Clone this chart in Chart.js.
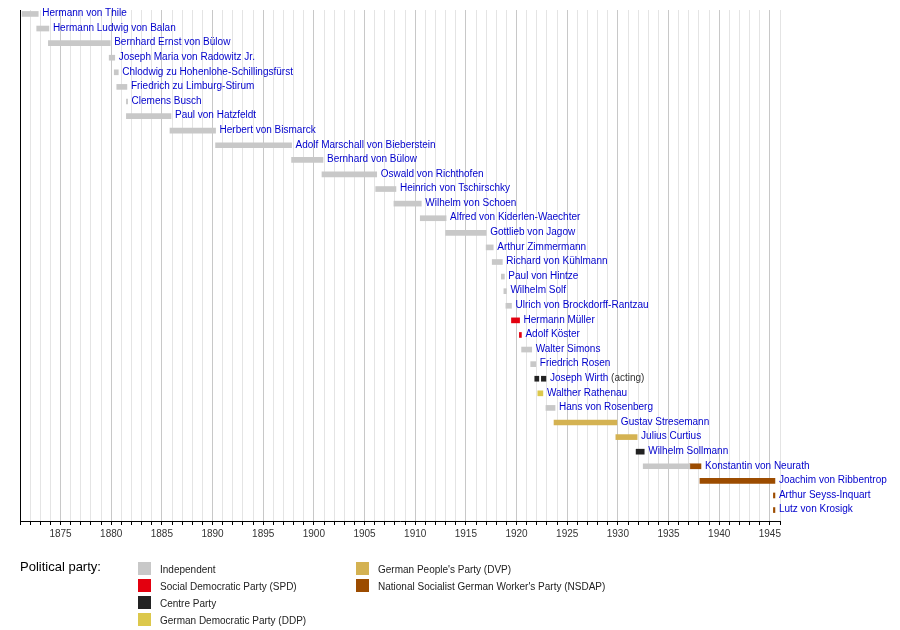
<!DOCTYPE html>
<html>
<head>
<meta charset="utf-8">
<script src="https://cdn.jsdelivr.net/npm/chart.js@4"></script>
<style>
  html, body { margin: 0; padding: 0; background: #fff; }
  #wrap { width: 900px; height: 630px; position: relative; }
</style>
</head>
<body>
<div id="wrap"><canvas id="chart"></canvas></div>
<script>
// office holders, top to bottom
const names = [
  "Hermann von Thile", "Hermann Ludwig von Balan", "Bernhard Ernst von Bülow",
  "Joseph Maria von Radowitz Jr.", "Chlodwig zu Hohenlohe-Schillingsfürst",
  "Friedrich zu Limburg-Stirum", "Clemens Busch", "Paul von Hatzfeldt",
  "Herbert von Bismarck", "Adolf Marschall von Bieberstein", "Bernhard von Bülow",
  "Oswald von Richthofen", "Heinrich von Tschirschky", "Wilhelm von Schoen",
  "Alfred von Kiderlen-Waechter", "Gottlieb von Jagow", "Arthur Zimmermann",
  "Richard von Kühlmann", "Paul von Hintze", "Wilhelm Solf",
  "Ulrich von Brockdorff-Rantzau", "Hermann Müller", "Adolf Köster",
  "Walter Simons", "Friedrich Rosen", "Joseph Wirth", "Walther Rathenau",
  "Hans von Rosenberg", "Gustav Stresemann", "Julius Curtius",
  "Wilhelm Sollmann", "Konstantin von Neurath", "Joachim von Ribbentrop",
  "Arthur Seyss-Inquart", "Lutz von Krosigk"
];
const nameSuffix = { 25: " (acting)" };

const parties = [
  "Independent", "Social Democratic Party (SPD)", "Centre Party",
  "German Democratic Party (DDP)", "German People's Party (DVP)",
  "National Socialist German Worker's Party (NSDAP)"
];
const partyColors = ["#c8c8c8", "#e3000f", "#222222", "#dcc84c", "#d4b252", "#9c4c00"];

// terms: [row, start, end, party index]
const terms = [
  [0, 1871.2, 1872.8, 0], [1, 1872.65, 1873.85, 0], [2, 1873.8, 1879.9, 0],
  [3, 1879.8, 1880.35, 0], [4, 1880.3, 1880.7, 0], [5, 1880.55, 1881.55, 0],
  [6, 1881.5, 1881.62, 0], [7, 1881.5, 1885.9, 0], [8, 1885.8, 1890.3, 0],
  [9, 1890.3, 1897.8, 0], [10, 1897.8, 1900.9, 0], [11, 1900.8, 1906.2, 0],
  [12, 1906.1, 1908.1, 0], [13, 1907.9, 1910.6, 0], [14, 1910.5, 1913.05, 0],
  [15, 1913.0, 1917.0, 0], [16, 1917.0, 1917.7, 0], [17, 1917.6, 1918.6, 0],
  [18, 1918.5, 1918.8, 0], [19, 1918.75, 1919.0, 0], [20, 1918.95, 1919.5, 0],
  [21, 1919.5, 1920.3, 1], [22, 1920.28, 1920.48, 1], [23, 1920.5, 1921.5, 0],
  [24, 1921.4, 1921.9, 0], [25, 1921.8, 1922.2, 2], [25, 1922.45, 1922.9, 2],
  [26, 1922.1, 1922.6, 3], [27, 1922.9, 1923.8, 0], [28, 1923.7, 1929.9, 4],
  [29, 1929.8, 1931.9, 4], [30, 1931.8, 1932.6, 2], [31, 1932.5, 1937.1, 0],
  [31, 1937.1, 1938.2, 5], [32, 1938.1, 1945.5, 5], [33, 1945.35, 1945.5, 5],
  [34, 1945.35, 1945.5, 5]
];

const yearMin = 1871;
const yearMax = 1946;
const FONT = '"Liberation Sans", Arial, sans-serif';

const datasets = parties.map((p, k) => ({
  label: p,
  data: terms.filter(t => t[3] === k).map(t => ({ x: [t[1], t[2]], y: t[0] })),
  backgroundColor: partyColors[k],
  borderWidth: 0,
  borderSkipped: false,
  barThickness: 5,
  grouped: false
}));

// end of each row's last bar, for placing the name
const rowEnd = names.map((n, i) => Math.max(...terms.filter(t => t[0] === i).map(t => t[2])));

const namesPlugin = {
  id: 'names',
  afterDatasetsDraw(chart) {
    const ctx = chart.ctx;
    const xs = chart.scales.x, ys = chart.scales.y;
    ctx.save();
    ctx.font = '10px ' + FONT;
    ctx.textBaseline = 'middle';
    ctx.textAlign = 'left';
    names.forEach((n, i) => {
      const x = xs.getPixelForValue(rowEnd[i]) + 4;
      const y = ys.getPixelForValue(i) - 0.5;
      ctx.fillStyle = '#0000cc';
      ctx.fillText(n, x, y);
      if (nameSuffix[i]) {
        ctx.fillStyle = '#333';
        ctx.fillText(nameSuffix[i], x + ctx.measureText(n).width, y);
      }
    });
    ctx.restore();
  }
};

const legendPlugin = {
  id: 'partyLegend',
  afterDraw(chart) {
    const ctx = chart.ctx;
    ctx.save();
    ctx.fillStyle = '#000';
    ctx.textBaseline = 'middle';
    ctx.font = '13px ' + FONT;
    ctx.fillText('Political party:', 20, 567);
    ctx.font = '10px ' + FONT;
    parties.forEach((p, k) => {
      const col = k < 4 ? 0 : 1;
      const row = k < 4 ? k : k - 4;
      const bx = col ? 356 : 138;
      const by = 562 + row * 17;
      ctx.fillStyle = partyColors[k];
      ctx.fillRect(bx, by, 13, 13);
      ctx.fillStyle = '#222';
      ctx.fillText(p, bx + 22, by + 8);
    });
    ctx.restore();
  }
};

const chart = new Chart("chart", {
  type: "bar",
  data: { datasets: datasets },
  options: {
    indexAxis: 'y',
    responsive: true,
    maintainAspectRatio: false,
    animation: false,
    layout: { padding: { left: 20, right: 120, top: 10, bottom: 89 } },
    plugins: {
      legend: { display: false },
      tooltip: { enabled: false }
    },
    scales: {
      x: {
        type: 'linear',
        min: yearMin,
        max: yearMax,
        afterFit: s => { s.height = 20; },
        afterBuildTicks: s => {
          const t = [];
          for (let v = yearMin; v <= yearMax; v++) t.push({ value: v });
          s.ticks = t;
        },
        ticks: {
          autoSkip: false,
          maxRotation: 0,
          padding: 3,
          color: '#333',
          font: { family: FONT, size: 10 },
          callback: v => (v % 5 === 0 ? String(v) : '')
        },
        grid: {
          color: c => (c.tick && c.tick.value % 5 === 0 ? '#c8c8c8' : '#e4e4e4'),
          tickColor: '#000',
          tickLength: 4,
          lineWidth: 1
        },
        border: { display: true, color: '#000', width: 1 }
      },
      y: {
        type: 'linear',
        reverse: true,
        offset: false,
        min: -0.27,
        max: 34.75,
        afterFit: s => { s.width = 0; },
        ticks: { display: false },
        grid: { display: false, drawTicks: false },
        border: { display: true, color: '#000', width: 1 }
      }
    }
  },
  plugins: [namesPlugin, legendPlugin]
});
</script>
</body>
</html>
